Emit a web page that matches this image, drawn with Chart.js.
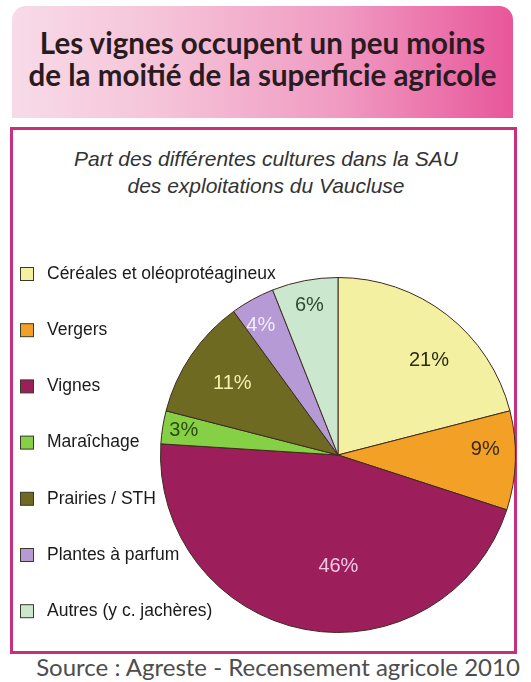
<!DOCTYPE html>
<html lang="fr">
<head>
<meta charset="utf-8">
<title>Part des cultures dans la SAU - Vaucluse</title>
<script src="https://cdn.jsdelivr.net/npm/chart.js@4.4.0/dist/chart.umd.min.js"></script>
<style>
  html, body { margin: 0; padding: 0; background: #fff; }
  #page { position: relative; width: 531px; height: 682px; overflow: hidden; background: #fff; }
  #bandeau {
    position: absolute; left: 12px; top: 6px; width: 501px; height: 112px;
    border-radius: 14px 14px 0 0;
    background: linear-gradient(to right, #f8dbe8 0%, #f5c3d8 30%, #f09bc2 65%, #e8569a 100%);
  }
  #titre {
    position: absolute; left: 12px; top: 27px; width: 501px; text-align: center;
    font-family: Lato, "DejaVu Sans", sans-serif; font-weight: 700; font-size: 29.5px;
    line-height: 32px; color: #2a1b21;
  }
  #cadre {
    position: absolute; left: 10px; top: 127px; width: 501px; height: 521px;
    border: 3px solid #c8307c;
  }
  #sous-titre {
    position: absolute; left: 10px; top: 145px; width: 512px; text-align: center;
    font-family: "Liberation Sans", Arial, sans-serif; font-style: italic; font-size: 21px;
    line-height: 27px; color: #333;
  }
  #source {
    position: absolute; left: 30px; top: 652px; width: 496px; text-align: center;
    font-family: Lato, "DejaVu Sans", sans-serif; font-size: 24px; color: #4d4d4d;
  }
  #graphique { position: absolute; left: 0; top: 0; }
</style>
</head>
<body>
<div id="page">
  <div id="bandeau"></div>
  <div id="titre">Les vignes occupent un peu moins<br>de la moitié de la superficie agricole</div>
  <div id="cadre"></div>
  <div id="sous-titre">Part des différentes cultures dans la SAU<br>des exploitations du Vaucluse</div>
  <div id="source">Source : Agreste - Recensement agricole 2010</div>
  <canvas id="graphique" width="531" height="682"></canvas>
</div>
<script>
// Cultures (dans l'ordre des secteurs, sens horaire depuis midi)
const cultures = [
  'Céréales et oléoprotéagineux',
  'Vergers',
  'Vignes',
  'Maraîchage',
  'Prairies / STH',
  'Plantes à parfum',
  'Autres (y c. jachères)'
];

// Part de la SAU (%)
const parts = [21, 9, 46, 3, 11, 4, 6];

const couleurs = ['#f4f0a2', '#f3a026', '#9c1f5c', '#86d045', '#6f6a21', '#b59ad5', '#cbe8cf'];
const couleursEtiquettes = ['#2b2b12', '#3a2a10', '#f2c8e4', '#2f4a10', '#f4f0b0', '#f3ecf8', '#2c4a30'];
// placement des étiquettes : distance au centre (fraction du rayon) et décalage angulaire (degrés)
const rayonEtiquettes = [0.74, 0.83, 0.63, 0.88, 0.72, 0.85, 0.86];
const decalageEtiquettes = [6, -4, -11, 0, 0, -2, 0];

// Étiquettes de pourcentage dans les secteurs
const pluginEtiquettes = {
  id: 'etiquettes',
  afterDatasetsDraw(chart) {
    const ctx = chart.ctx;
    const meta = chart.getDatasetMeta(0);
    ctx.save();
    ctx.font = '20px "Liberation Sans", Arial, sans-serif';
    ctx.textAlign = 'center';
    ctx.textBaseline = 'middle';
    meta.data.forEach((arc, i) => {
      const p = arc.getProps(['x', 'y', 'startAngle', 'endAngle', 'outerRadius'], true);
      const milieu = (p.startAngle + p.endAngle) / 2 + decalageEtiquettes[i] * Math.PI / 180;
      const r = p.outerRadius * rayonEtiquettes[i];
      ctx.fillStyle = couleursEtiquettes[i];
      ctx.fillText(chart.data.datasets[0].data[i] + '%', p.x + Math.cos(milieu) * r, p.y + Math.sin(milieu) * r);
    });
    ctx.restore();
  }
};

// Légende verticale à gauche (dessinée à la main pour pouvoir chevaucher le camembert)
const pluginLegende = {
  id: 'legendeGauche',
  afterDraw(chart) {
    const ctx = chart.ctx;
    const ds = chart.data.datasets[0];
    ctx.save();
    ctx.font = '17.5px "Liberation Sans", Arial, sans-serif';
    ctx.textBaseline = 'middle';
    chart.data.labels.forEach((lab, i) => {
      const y = 274 + i * 56.2;
      ctx.fillStyle = ds.backgroundColor[i];
      ctx.fillRect(20.5, y - 6.5, 13, 13);
      ctx.strokeStyle = '#3a3a2a';
      ctx.lineWidth = 1;
      ctx.strokeRect(20.5, y - 6.5, 13, 13);
      ctx.fillStyle = '#1a1a1a';
      ctx.fillText(lab, 47, y);
    });
    ctx.restore();
  }
};

new Chart(document.getElementById('graphique').getContext('2d'), {
  type: 'pie',
  data: {
    labels: cultures,
    datasets: [{
      data: parts,
      backgroundColor: couleurs,
      borderColor: '#3d2a1f',
      borderWidth: 1
    }]
  },
  options: {
    responsive: false,
    animation: false,
    layout: { padding: { left: 160, top: 277, right: 15, bottom: 49 } },
    plugins: { legend: { display: false }, tooltip: { enabled: false } }
  },
  plugins: [pluginEtiquettes, pluginLegende]
});
</script>
</body>
</html>
